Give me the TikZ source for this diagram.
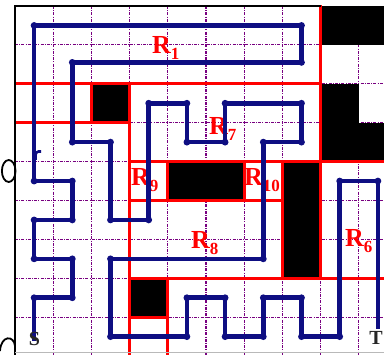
\documentclass[tikz,border=0pt]{standalone}
\usepackage{fontspec}
\setmainfont{Liberation Serif}
\definecolor{navyb}{RGB}{14,14,130}
\definecolor{gridp}{RGB}{120,0,128}
\newcommand{\Rlab}[1]{R\raisebox{-6pt}{\fontsize{17}{17}\selectfont #1}}
\begin{document}
\begin{tikzpicture}[x=1pt,y=-1pt,
  gridline/.style={gridp, line width=1.1pt, dash pattern=on 3pt off 1.2pt on 1pt off 1.2pt},
  wall/.style={red, line width=2.8pt, line cap=rect},
  block/.style={fill=black},
  route/.style={navyb, line width=4.6pt, line join=round},
  rlabel/.style={red, font=\bfseries\fontsize{26}{26}\selectfont, inner sep=0pt, anchor=base west},
  endlabel/.style={black!85, font=\bfseries\fontsize{20}{20}\selectfont, inner sep=0pt},
  frame/.style={black, line width=2.2pt},
  artifact/.style={black, line width=1.8pt}
]
\useasboundingbox (0,0) rectangle (384,355);
\clip (0,0) rectangle (384,355);
\fill[white] (0,0) rectangle (384,355);
\begin{scope}[shift={(15,6)}, x=38.2pt, y=-38.9pt]
  % grid
  \foreach \i in {1,...,9} \draw[gridline] (\i,0) -- (\i,9.3);
  \foreach \j in {1,...,8} \draw[gridline] (0,\j) -- (9.8,\j);
  % obstacles
  \fill[block] (8,0) rectangle (9.8,1);
  \fill[block] (8,2) rectangle (9,3);
  \fill[block] (8,3) rectangle (9.8,4);
  \fill[block] (2,2) rectangle (3,3);
  \fill[block] (4,4) rectangle (6,5);
  \fill[block] (7,4) rectangle (8,7);
  \fill[block] (3,7) rectangle (4,8);
  % red region borders
  \draw[wall] (0,2) -- (8,2);
  \draw[wall] (0,3) -- (3,3);
  \draw[wall] (3,4) -- (9.8,4);
  \draw[wall] (3,5) -- (7,5);
  \draw[wall] (3,7) -- (9.8,7);
  \draw[wall] (3,8) -- (4,8);
  \draw[wall] (2,2) -- (2,3);
  \draw[wall] (3,2) -- (3,9.3);
  \draw[wall] (4,4) -- (4,5);
  \draw[wall] (4,7) -- (4,9.3);
  \draw[wall] (6,4) -- (6,5);
  \draw[wall] (7,4) -- (7,7);
  \draw[wall] (8,0) -- (8,7);
  % frame
  \draw[frame] (0,9.3) -- (0,0) -- (8,0);
\end{scope}
% bottom rule
\draw[gray!55, line width=1pt] (15,353) -- (384,353);
% cut-off glyphs at the left edge
\draw[artifact] (8.7,171) ellipse [x radius=6.8, y radius=11];
\draw[artifact] (0,351) .. controls (1,335) and (14,335) .. (15,346);
\draw[navyb, line width=2.6pt] (35.5,160) -- (35.5,155) to[out=90,in=180] (38.5,151.5) -- (41,151.5);
% region labels
\node[rlabel] (r1) at (152,54) {\Rlab{1}};
\node[rlabel] (r7) at (209,135) {\Rlab{7}};
\node[rlabel] (r9) at (131,186) {\Rlab{9}};
\node[rlabel] (r10) at (244,186) {\Rlab{10}};
\node[rlabel] (r8) at (191,249) {\Rlab{8}};
\node[rlabel] (r6) at (345,247) {\Rlab{6}};
% route
\begin{scope}[shift={(15,6)}, x=38.2pt, y=-38.9pt]
  \draw[route] (0.5,8.6) -- (0.5,7.5) -- (1.5,7.5) -- (1.5,6.5) -- (0.5,6.5) -- (0.5,5.5) -- (1.5,5.5) -- (1.5,4.5) -- (0.5,4.5) -- (0.5,0.5) -- (7.5,0.5) -- (7.5,1.45) -- (1.5,1.45) -- (1.5,3.5) -- (2.5,3.5) -- (2.5,5.5) -- (3.5,5.5) -- (3.5,2.5) -- (4.5,2.5) -- (4.5,3.5) -- (5.5,3.5) -- (5.5,2.5) -- (7.5,2.5) -- (7.5,3.5) -- (6.5,3.5) -- (6.5,6.5) -- (2.5,6.5) -- (2.5,8.5) -- (4.5,8.5) -- (4.5,7.5) -- (5.5,7.5) -- (5.5,8.5) -- (6.5,8.5) -- (6.5,7.5) -- (7.5,7.5) -- (7.5,8.5) -- (8.5,8.5) -- (8.5,4.5) -- (9.5,4.5) -- (9.5,8.3);
  \foreach \c/\r in {0.5/7.5,1.5/7.5,1.5/6.5,0.5/6.5,0.5/5.5,1.5/5.5,1.5/4.5,0.5/4.5,0.5/0.5,7.5/0.5,7.5/1.45,1.5/1.45,1.5/3.5,2.5/3.5,2.5/5.5,3.5/5.5,3.5/2.5,4.5/2.5,4.5/3.5,5.5/3.5,5.5/2.5,7.5/2.5,7.5/3.5,6.5/3.5,6.5/6.5,2.5/6.5,2.5/8.5,4.5/8.5,4.5/7.5,5.5/7.5,5.5/8.5,6.5/8.5,6.5/7.5,7.5/7.5,7.5/8.5,8.5/8.5,8.5/4.5,9.5/4.5}
    \fill[navyb] (\c,\r) circle (3.4pt);
\end{scope}
% end labels
\node[endlabel] (s) at (34.5,339) {S};
\node[endlabel] (t) at (376,338) {T};
\end{tikzpicture}
\end{document}
